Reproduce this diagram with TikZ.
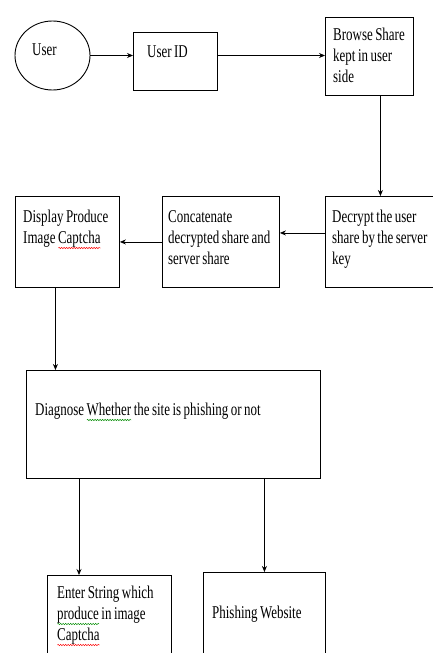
\documentclass[tikz,border=0pt]{standalone}
\usepackage{fontspec}
\usetikzlibrary{arrows.meta, shapes.geometric, decorations.pathmorphing}
\setmainfont{Liberation Serif}[FakeStretch=0.72]

\newcommand{\lblfont}{\fontsize{18}{21}\selectfont\spaceskip 2.5pt plus 0.5pt minus 0.5pt\relax}
% spell-check wave under a word
\newcommand{\wavy}[2]{\leavevmode\setbox0\hbox{#2}\rlap{\smash{\tikz[baseline=0pt]\draw[#1, line width=0.45pt, decorate,
  decoration={snake, amplitude=0.7pt, segment length=2.5pt}] (0pt,-5pt) -- (\wd0,-5pt);}}\box0\relax}

\begin{document}
\begin{tikzpicture}[x=1pt, y=-1pt, >={Stealth[length=6pt, width=5pt]},
  box/.style={draw, line width=0.9pt, anchor=north west, inner sep=0pt},
  lbl/.style={anchor=base west, inner sep=0pt, text width=300pt, align=flush left, font=\lblfont},
  flow/.style={->, line width=0.8pt}]
  \useasboundingbox (0,0) rectangle (433,653);
  % top row
  \node[draw, ellipse, line width=0.9pt, minimum width=75pt, minimum height=69pt] (user) at (52.5,55.5) {};
  \node[box, minimum width=84pt, minimum height=58pt] (userid) at (133,32) {};
  \node[box, minimum width=88pt, minimum height=78pt] (browse) at (325,17) {};
  % middle row
  \node[box, minimum width=110pt, minimum height=91pt] (decrypt) at (325,196) {};
  \node[box, minimum width=117pt, minimum height=91pt] (concat) at (162,196) {};
  \node[box, minimum width=104pt, minimum height=91pt] (display) at (15,196) {};
  % check and results
  \node[box, minimum width=294pt, minimum height=108pt] (diagnose) at (26,370) {};
  \node[box, minimum width=124pt, minimum height=90pt] (enter) at (47,575) {};
  \node[box, minimum width=122pt, minimum height=90pt] (phish) at (203,572) {};

  \node[lbl] (userlbl) at (32,55) {User};
  \node[lbl] (useridlbl) at (147,57) {User ID};
  \node[lbl] (browselbl) at (333,40) {Browse Share\\kept in user\\side};
  \node[lbl] (decryptlbl) at (332,222) {Decrypt the user\\share by the server\\key};
  \node[lbl] (concatlbl) at (168,222) {Concatenate\\decrypted share and\\server share};
  \node[lbl] (displaylbl) at (23,222) {Display Produce\\Image \wavy{red}{Captcha}};
  \node[lbl] (diagnoselbl) at (35,415) {Diagnose \wavy{green!55!black}{Whether} the site is phishing or not};
  \node[lbl] (enterlbl) at (57,598) {Enter String which\\\wavy{green!55!black}{produce} in image\\\wavy{red}{Captcha}};
  \node[lbl] (phishlbl) at (212,618) {Phishing Website};

  \draw[flow] (user.east) -- (user.east -| userid.west);
  \draw[flow] (userid.east |- user.east) -- (browse.west |- user.east);
  \draw[flow] (decrypt.north |- browse.south) -- (decrypt.north);
  \draw[flow] ([yshift=9pt]decrypt.west) -- ([yshift=9pt]concat.east);
  \draw[flow] (concat.west) -- (display.east);
  \draw[flow] ([xshift=-12pt]display.south) -- ([xshift=-12pt]display.south |- diagnose.north);
  \draw[flow] ([xshift=53pt]diagnose.south west) -- ([xshift=53pt]diagnose.south west |- enter.north);
  \draw[flow] (phish.north |- diagnose.south) -- (phish.north);
\end{tikzpicture}
\end{document}
